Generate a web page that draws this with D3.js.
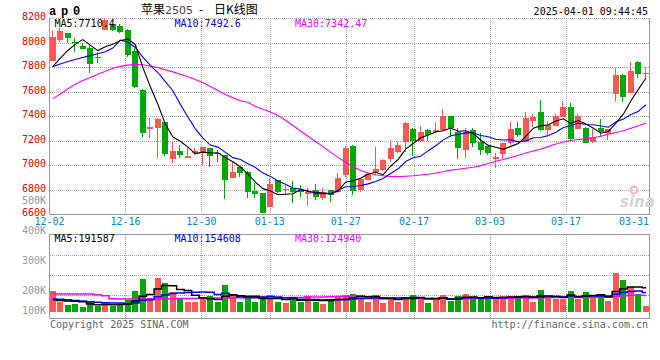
<!DOCTYPE html>
<html>
<head>
<meta charset="utf-8">
<script src="https://cdn.jsdelivr.net/npm/d3@7/dist/d3.min.js"></script>
<style>
  body { margin: 0; background: #fff; }
  svg text { font-family: 'DejaVu Sans Mono', monospace; font-size: 10px; }
</style>
</head>
<body>
<script>
// Constants
const width = 660;
const height = 360;
const plot = {left: 49.5, right: 649.5, top: 18, bottom: 214};
const volBox = {top: 234.5, bottom: 318.5};
const upColor = '#ff5656', downColor = '#00a800';
const gridColor = '#a8a8a8', frameColor = '#999';

// x axis ticks (index of the trading day + label)
const tickIndex = [0, 10, 20, 29, 39, 48, 58, 68, 78];
const tickLabels = ['12-02', '12-16', '12-30', '01-13', '01-27', '02-17', '03-03', '03-17', '03-31'];
const priceTicks = [6600, 6800, 7000, 7200, 7400, 7600, 7800, 8000, 8200];
const volTicks = [100, 200, 300, 400, 500];

// daily candles, 2024-12-02 .. 2025-04-01
const opens = [7852,8020,8075,8007,7971,7958,7884,8102,8148,8135,
  8102,7930,7612,7297,7299,7354,7049,7114,7060,7098,
  7098,7136,7098,7082,6891,6986,6945,6790,6774,6660,
  6877,6793,6810,6800,6760,6800,6728,6796,6777,6918,
  7155,6796,6877,6945,6960,7049,7109,7190,7294,7196,
  7286,7267,7286,7400,7267,7122,7286,7190,7155,7052,
  7087,7177,7300,7185,7362,7430,7286,7321,7395,7470,
  7294,7300,7190,7300,7264,7580,7735,7590,7843,7740];
const highs = [8100,8116,8075,8040,7993,7980,7925,8198,8150,8148,
  8110,7952,7620,7386,7380,7360,7190,7163,7136,7141,
  7147,7140,7122,7082,7027,6990,6950,6850,6774,6891,
  6880,6837,6870,6837,6810,6842,6810,6796,6932,7158,
  7160,6891,6945,7144,7045,7204,7190,7350,7300,7318,
  7290,7354,7454,7400,7300,7300,7305,7258,7155,7095,
  7182,7348,7354,7430,7414,7530,7362,7420,7522,7503,
  7420,7313,7291,7373,7291,7789,7743,7838,7852,7803];
const lows = [7849,8007,7993,7925,7950,7748,7830,8100,8090,8075,
  7884,7631,7231,7223,7060,7073,7014,7060,7060,7082,
  7000,6986,7027,6722,6891,6900,6733,6733,6605,6655,
  6770,6755,6687,6740,6668,6714,6714,6700,6769,6905,
  6755,6777,6877,6930,6955,7027,7100,7109,7076,7190,
  7196,7264,7280,7231,7049,7060,7150,7082,7082,6978,
  7049,7163,7231,7185,7307,7278,7231,7318,7390,7205,
  7290,7177,7182,7231,7204,7512,7512,7585,7713,7708];
const closes = [8048,8094,8034,7993,7950,7824,7871,8185,8102,8088,
  7898,7640,7258,7310,7375,7087,7114,7082,7070,7114,
  7147,7076,7087,6878,6945,6932,6782,6763,6611,6845,
  6782,6804,6782,6782,6782,6736,6777,6755,6891,7141,
  6790,6883,6924,6967,7040,7136,7163,7345,7196,7272,
  7245,7286,7400,7305,7141,7267,7177,7122,7095,7065,
  7182,7294,7245,7386,7395,7286,7326,7400,7476,7212,
  7400,7182,7231,7272,7291,7735,7558,7770,7740,7751];

// price moving averages as plotted
const ma5 = [7803,7871,7935,7985,8024,7979,7934,7965,7986,8014,
  8029,7983,7797,7639,7496,7334,7229,7194,7146,7093,
  7105,7098,7099,7060,7027,6984,6925,6860,6807,6787,
  6757,6761,6765,6799,6786,6777,6772,6766,6788,6860,
  6871,6892,6926,6941,6921,6990,7046,7130,7176,7222,
  7244,7269,7280,7302,7275,7280,7258,7202,7160,7145,
  7128,7152,7176,7234,7300,7321,7328,7359,7377,7340,
  7363,7334,7300,7259,7275,7342,7417,7525,7619,7710];
const ma10 = [7803,7825,7845,7862,7878,7893,7908,7925,7955,8019,
  8004,7959,7881,7813,7755,7681,7606,7495,7392,7295,
  7220,7163,7146,7103,7060,7045,7011,6979,6934,6907,
  6870,6843,6812,6803,6787,6767,6766,6766,6794,6823,
  6824,6832,6846,6865,6890,6930,6969,7028,7059,7072,
  7117,7157,7205,7239,7249,7262,7263,7241,7231,7210,
  7204,7205,7189,7197,7223,7225,7240,7267,7306,7320,
  7342,7331,7329,7318,7308,7353,7376,7413,7439,7493];
const ma30 = [7540,7580,7620,7660,7690,7715,7740,7765,7790,7805,
  7815,7822,7818,7808,7795,7778,7760,7740,7720,7698,
  7672,7640,7608,7575,7548,7525,7512,7478,7455,7432,
  7405,7365,7322,7278,7235,7192,7150,7105,7062,7022,
  6985,6955,6935,6920,6912,6906,6905,6908,6912,6918,
  6924,6935,6945,6958,6965,6973,6982,6995,7012,7030,
  7045,7062,7080,7098,7115,7130,7150,7172,7188,7200,
  7208,7215,7223,7235,7252,7265,7280,7300,7320,7342];

// volume (thousand lots) and its averages
const volumes = [165,80,54,62,40,75,46,67,46,54,
  93,165,260,112,270,231,159,106,80,80,
  120,128,80,212,141,80,106,80,125,133,
  80,72,93,80,128,80,62,101,120,133,
  141,120,80,133,72,120,80,120,133,112,
  72,93,133,85,125,141,101,101,125,101,
  125,125,120,133,80,173,125,101,101,165,
  101,157,120,133,85,310,252,199,141,46];
const volMa5 = [95,90,85,83,80,62,55,58,55,58,
  61,85,124,137,180,208,206,176,169,131,
  109,103,98,124,136,128,124,124,106,105,
  105,98,101,92,91,91,89,90,98,99,
  111,123,119,121,109,105,97,105,105,113,
  103,106,109,99,102,115,117,111,119,114,
  111,115,119,121,117,126,126,122,116,133,
  119,125,129,135,119,161,180,196,197,190];
const volMa10 = [101,99,95,90,85,80,75,72,70,69,
  62,70,91,96,119,134,146,150,153,156,
  158,155,137,147,134,119,113,111,115,121,
  117,111,112,99,98,98,93,95,95,95,
  101,106,105,110,104,108,110,112,113,111,
  104,102,107,102,107,109,112,110,109,108,
  113,116,115,120,115,118,121,121,118,125,
  122,126,126,126,126,140,153,162,166,154];
const volMa30 = [141,141,141,141,141,141,136,128,103,101,
  101,101,101,101,102,103,104,105,106,106,
  107,108,109,110,111,112,113,114,115,115,
  112,112,113,114,117,117,117,119,121,124,
  125,124,118,118,112,108,106,106,108,109,
  107,106,108,104,103,105,105,106,106,105,
  106,108,109,111,109,112,114,114,113,115,
  113,114,116,116,116,123,128,131,131,129];

// Create an SVG
var svg = d3.select('body')
  .append('svg')
  .attr('width', width)
  .attr('height', height)
  .style('display', 'block')
  .style('background', '#fff');

// scales
const xCandle = d3.scaleLinear().domain([0, closes.length - 1]).range([52.7, 646]);
const xGrid = d3.scaleLinear().domain([0, closes.length - 1]).range([plot.left, plot.right]);
const y = d3.scaleLinear().domain([6600, 8200]).range([plot.bottom, plot.top]);
const yVol = d3.scaleLinear().domain([0, 600]).range([311.8, 236.2]);
// sina prints its volume labels on their own (uneven) spacing
const yVolLabel = d3.scaleLinear().domain([100, 200, 500]).range([314.3, 294, 204.3]);
const yVolGrid = d3.scaleLinear().domain([0, 4]).range([volBox.top, volBox.top + 81.2]);

drawGrid();
drawCandles();
drawVolume();
drawText();

function px(v) { return Math.round(v) + 0.5; }

function drawGrid()
{
  let g = svg.append('g').attr('shape-rendering', 'crispEdges');
  let inner = tickIndex.filter(i => i > 0 && i < 70);

  // price grid (top edge included, dotted)
  g.selectAll('.hgrid')
    .data(priceTicks.filter(p => p > 6600))
    .enter()
    .append('line')
    .attr('x1', plot.left).attr('x2', plot.right)
    .attr('y1', d => px(y(d))).attr('y2', d => px(y(d)))
    .attr('stroke', gridColor).attr('stroke-dasharray', '1,1');

  g.selectAll('.vgrid')
    .data(inner)
    .enter()
    .append('line')
    .attr('x1', d => px(xGrid(d))).attr('x2', d => px(xGrid(d)))
    .attr('y1', plot.top).attr('y2', plot.bottom)
    .attr('stroke', gridColor).attr('stroke-dasharray', '1,1');

  // volume grid
  g.selectAll('.vhgrid')
    .data([1, 2, 3])
    .enter()
    .append('line')
    .attr('x1', plot.left).attr('x2', plot.right)
    .attr('y1', d => px(yVolGrid(d))).attr('y2', d => px(yVolGrid(d)))
    .attr('stroke', gridColor).attr('stroke-dasharray', '1,1');

  g.selectAll('.vvgrid')
    .data(inner)
    .enter()
    .append('line')
    .attr('x1', d => px(xGrid(d))).attr('x2', d => px(xGrid(d)))
    .attr('y1', volBox.top).attr('y2', volBox.bottom)
    .attr('stroke', gridColor).attr('stroke-dasharray', '1,1');

  // frames
  g.append('path')
    .attr('d', `M${plot.left},${plot.top}V${plot.bottom}H${plot.right}V${plot.top}`)
    .attr('fill', 'none')
    .attr('stroke', frameColor);

  g.append('rect')
    .attr('x', plot.left).attr('y', volBox.top)
    .attr('width', plot.right - plot.left)
    .attr('height', volBox.bottom - volBox.top)
    .attr('fill', 'none')
    .attr('stroke', frameColor);
}

function drawCandles()
{
  let candles = svg.append('g').attr('shape-rendering', 'crispEdges');
  let idx = d3.range(closes.length);
  let col = i => closes[i] >= opens[i] ? upColor : downColor;

  candles.selectAll('.wick')
    .data(idx)
    .enter()
    .append('line')
    .attr('x1', i => Math.round(xCandle(i)) - 0.5)
    .attr('x2', i => Math.round(xCandle(i)) - 0.5)
    .attr('y1', i => y(highs[i]))
    .attr('y2', i => y(lows[i]))
    .attr('stroke', col);

  candles.selectAll('.body')
    .data(idx)
    .enter()
    .append('rect')
    .attr('x', i => Math.round(xCandle(i)) - 3)
    .attr('width', 6)
    .attr('y', i => y(Math.max(opens[i], closes[i])))
    .attr('height', i => Math.max(1, Math.abs(y(opens[i]) - y(closes[i]))))
    .attr('fill', col);

  let line = d3.line()
    .x((d, i) => xCandle(i))
    .y(d => y(d));

  [[ma30, '#ff00ff'], [ma10, '#0000ff'], [ma5, '#000000']].forEach(([s, c]) => {
    svg.append('path')
      .datum(s)
      .attr('d', line)
      .attr('fill', 'none')
      .attr('stroke', c)
      .attr('stroke-width', 1.1);
  });
}

function drawVolume()
{
  let idx = d3.range(volumes.length);
  let bars = svg.append('g').attr('shape-rendering', 'crispEdges');

  bars.selectAll('rect')
    .data(idx)
    .enter()
    .append('rect')
    .attr('x', i => Math.round(xCandle(i)) - 3)
    .attr('width', 6)
    .attr('y', i => yVol(volumes[i]))
    .attr('height', i => yVol(0) - yVol(volumes[i]))
    .attr('fill', i => closes[i] >= opens[i] ? upColor : downColor);

  let line = d3.line()
    .curve(d3.curveStep)
    .x((d, i) => xCandle(i))
    .y(d => yVol(d));

  [[volMa30, '#ff00ff'], [volMa10, '#0000ff'], [volMa5, '#000000']].forEach(([s, c]) => {
    svg.append('path')
      .datum(s)
      .attr('d', line)
      .attr('fill', 'none')
      .attr('stroke', c)
      .attr('stroke-width', 1.5);
  });
}

function drawText()
{
  let t = svg.append('g');

  // header
  t.append('text')
    .attr('x', 49).attr('y', 15)
    .style('font-family', "'Liberation Mono', monospace")
    .style('font-size', '12px').style('font-weight', 'bold')
    .style('letter-spacing', '-1.2px')
    .text('a p 0');

  let title = t.append('text')
    .attr('y', 14)
    .style('font-family', "'Noto Sans CJK SC', sans-serif")
    .style('font-size', '12px');
  title.append('tspan').attr('x', 141).text('苹果');
  title.append('tspan').attr('fill', '#444').style('font-family', "'DejaVu Sans', sans-serif")
    .style('font-size', '11px').text('2505');
  title.append('tspan').attr('x', 199).text('-');
  title.append('tspan').attr('x', 214).text('日K线图');

  t.append('text')
    .attr('x', 648).attr('y', 15)
    .attr('text-anchor', 'end')
    .text('2025-04-01 09:44:45');

  // price legend
  [['MA5:7710.4', 54.5, '#000'], ['MA10:7492.6', 174.5, '#0000ff'], ['MA30:7342.47', 295, '#ff00ff']]
    .forEach(([s, x, c]) => t.append('text').attr('x', x).attr('y', 26.5).attr('fill', c).text(s));

  // volume legend
  [['MA5:191587', 54.5, '#000'], ['MA10:154608', 174.5, '#0000ff'], ['MA30:124940', 295, '#ff00ff']]
    .forEach(([s, x, c]) => t.append('text').attr('x', x).attr('y', 242).attr('fill', c).text(s));

  // price axis
  t.selectAll('.plabel')
    .data(priceTicks)
    .enter()
    .append('text')
    .attr('x', 46)
    .attr('y', d => y(d) + 2)
    .attr('text-anchor', 'end')
    .attr('fill', '#e60000')
    .text(d => d);

  // volume axis
  t.selectAll('.vlabel')
    .data(volTicks)
    .enter()
    .append('text')
    .attr('x', 46)
    .attr('y', d => yVolLabel(d))
    .attr('text-anchor', 'end')
    .attr('fill', '#999')
    .text(d => d + 'K');

  // date axis, last label pushed inside the frame
  t.selectAll('.xlabel')
    .data(tickIndex)
    .enter()
    .append('text')
    .attr('x', d => Math.min(xGrid(d), plot.right - 15.5))
    .attr('y', 225)
    .attr('text-anchor', 'middle')
    .attr('fill', '#0a88d8')
    .text((d, i) => tickLabels[i]);

  // footer
  t.append('text').attr('x', 50).attr('y', 327.5).attr('fill', '#666')
    .text('Copyright 2025 SINA.COM');
  t.append('text').attr('x', 648).attr('y', 327.5).attr('fill', '#666')
    .attr('text-anchor', 'end')
    .text('http://finance.sina.com.cn');

  // watermark
  t.append('circle').attr('cx', 634).attr('cy', 190).attr('r', 3.5)
    .attr('fill', 'none').attr('stroke', '#f2b8b8').attr('stroke-width', 2);
  t.append('text').attr('x', 620).attr('y', 207)
    .style('font-family', "'DejaVu Sans', sans-serif")
    .style('font-size', '15px').style('font-weight', 'bold').style('font-style', 'italic')
    .attr('fill', '#d4d4d4')
    .text('sina');
}
</script>
</body>
</html>
